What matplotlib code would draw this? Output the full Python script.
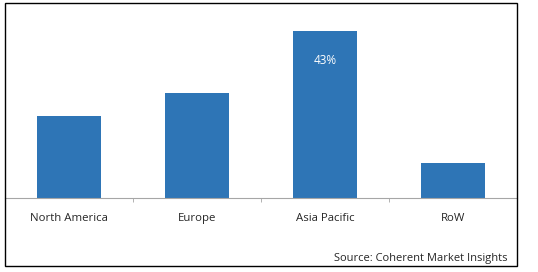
import matplotlib.pyplot as plt
from matplotlib.patches import Rectangle

regions = ["North America", "Europe", "Asia Pacific", "RoW"]
share = [21, 27, 43, 9]
labels = ["", "", "43%", ""]

W, H = 538, 272
fig = plt.figure(figsize=(W / 100, H / 100), dpi=100)
plt.rcParams['font.family'] = ['Open Sans', 'DejaVu Sans']

# outer frame
fig.patches.append(Rectangle((5 / W, 1 - 266 / H), 512 / W, 263 / H,
                             transform=fig.transFigure, fill=False,
                             edgecolor='black', linewidth=1.0))

ax = fig.add_axes([5 / W, 1 - 198 / H, 512 / W, 188 / H])
x = range(len(regions))
bars = ax.bar(x, share, width=0.5, color='#2E75B6')
ax.set_xlim(-0.5, len(regions) - 0.5)
ax.set_ylim(0, 43 * 188 / 167)

for b, lab in zip(bars, labels):
    if lab:
        ax.text(b.get_x() + b.get_width() / 2, b.get_height() - 7.5, lab,
                ha='center', va='center', color='white', fontsize=8.5)

for s in ['top', 'right', 'left']:
    ax.spines[s].set_visible(False)
ax.spines['bottom'].set_color('#A6A6A6')
ax.set_yticks([])
ax.set_xticks(list(x))
ax.set_xticklabels(regions, fontsize=8.2, color='#262626')
ax.tick_params(axis='x', which='major', length=0, pad=11)
ax.set_xticks([0.5, 1.5, 2.5], minor=True)
ax.tick_params(axis='x', which='minor', length=3, color='#A6A6A6')
ax.patch.set_visible(False)

fig.text(508 / W, 1 - 259 / H, "Source: Coherent Market Insights",
         ha='right', va='center', fontsize=8, color='#262626')

fig.savefig('out.png', dpi=100)
